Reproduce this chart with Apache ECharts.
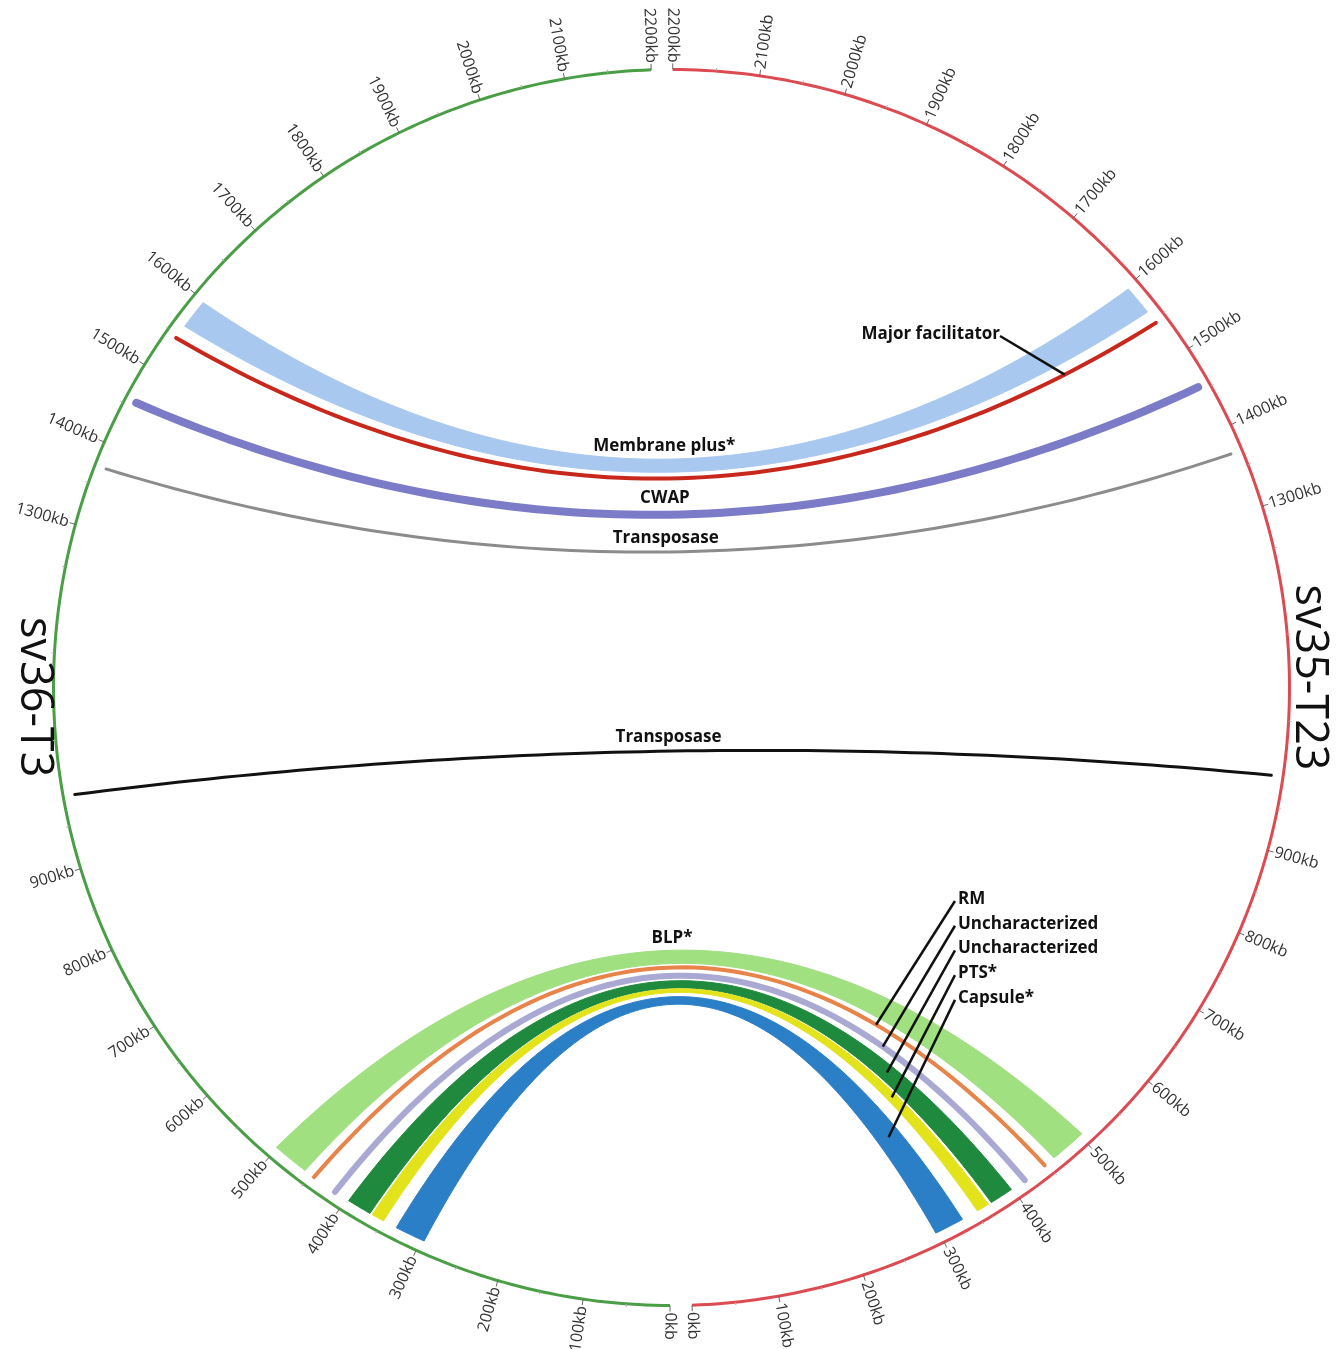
<!DOCTYPE html>
<html>
<head>
<meta charset="utf-8">
<script src="https://cdn.jsdelivr.net/npm/echarts@6/dist/echarts.min.js"></script>
<style>
html,body{margin:0;padding:0;background:#ffffff;}
#chart{width:1339px;height:1349px;}
</style>
</head>
<body>
<div id="chart"></div>
<script>
// ---------------- DATA ----------------
const chromNames = ['sv36-T3', 'sv35-T23'];          // left (green), right (red)
const chromLengthKb = [2200, 2200];

const tickKb = [0, 100, 200, 300, 400, 500, 600, 700, 800, 900,
                1300, 1400, 1500, 1600, 1700, 1800, 1900, 2000, 2100, 2200];
const tickLabels = ['0kb', '100kb', '200kb', '300kb', '400kb', '500kb', '600kb', '700kb', '800kb', '900kb',
                    '1300kb', '1400kb', '1500kb', '1600kb', '1700kb', '1800kb', '1900kb', '2000kb', '2100kb', '2200kb'];
const minorTickKb = [50, 150, 250, 350, 450, 550, 650, 750, 850, 950, 1050, 1150, 1250, 1350,
                     1450, 1550, 1650, 1750, 1850, 1950, 2050, 2150];

const linkNames = ['Membrane plus*', 'Major facilitator', 'CWAP', 'Transposase', 'Transposase',
                   'BLP*', 'RM', 'Uncharacterized', 'Uncharacterized', 'PTS*', 'Capsule*'];
const linkGreenStart = [1563, 1546, 1457, 1372, 985, 458, 445, 415, 367, 349, 296];
const linkGreenEnd   = [1598, 1546, 1457, 1372, 985, 501, 445, 415, 396, 364, 332];
const linkRedStart   = [1562, 1546, 1456, 1369, 986, 460, 446, 417, 370, 351, 296];
const linkRedEnd     = [1597, 1546, 1456, 1369, 986, 503, 446, 417, 398, 366, 331];

// ---------------- STYLE ----------------
const chromColors = ['#4a9e46', '#dc4a52'];
const linkColors = ['#a9c8ef', '#c8281c', '#7b7bc8', '#8c8c8c', '#111111',
                    '#a0e081', '#e8834a', '#a9a9d3', '#1f8a3d', '#e3e31c', '#2a7fc6'];
const linkLineWidths = [0, 4, 8, 3, 3, 0, 4, 6, 0, 0, 0];
const linkLabelMode = ['above', 'leaderLeft', 'above', 'above', 'above',
                       'above', 'leader', 'leader', 'leader', 'leader', 'leader'];

// ---------------- SCALE HELPERS ----------------
const CIRCLE_KB = 4450;        // kb spanned by the full circle
const RED_BASE_KB = 4424.7;    // red chromosome runs backwards from here
const LINK_R = 0.981;
const FONT = '"Open Sans", "Noto Sans", sans-serif';

function gpos(chrom, kb) { return chrom === 0 ? kb : RED_BASE_KB - kb; }

function center(api) { return api.coord([0, 0]); }
function radiusPx(api) {
  const c = center(api), p = api.coord([1, 0]);
  return Math.hypot(p[0] - c[0], p[1] - c[1]);
}
function arcPts(api, chrom, kb0, kb1, r, n) {
  const pts = [];
  for (let i = 0; i <= n; i++) {
    const kb = kb0 + (kb1 - kb0) * i / n;
    pts.push(api.coord([r, gpos(chrom, kb)]));
  }
  return pts;
}
// control point pulled from the centre toward the chord midpoint;
// short chords (close to centre) bend a bit less sharply
function ctrl(C, P0, P2) {
  const M = [(P0[0] + P2[0]) / 2, (P0[1] + P2[1]) / 2];
  const d = Math.max(Math.hypot(M[0] - C[0], M[1] - C[1]), 1);
  const f = 0.12 + 18 / d;
  return [C[0] + f * (M[0] - C[0]), C[1] + f * (M[1] - C[1])];
}
function quadAt(P0, Q, P2, t) {
  const a = (1 - t) * (1 - t), b = 2 * (1 - t) * t, c = t * t;
  return [a * P0[0] + b * Q[0] + c * P2[0], a * P0[1] + b * Q[1] + c * P2[1]];
}
function quadPts(C, P0, P2, n) {
  const Q = ctrl(C, P0, P2);
  const pts = [];
  for (let i = 0; i <= n; i++) pts.push(quadAt(P0, Q, P2, i / n));
  return pts;
}
function linkEnds(api, i) {
  const P = (chrom, kb) => api.coord([LINK_R, gpos(chrom, kb)]);
  return {
    gS: P(0, linkGreenStart[i]), gE: P(0, linkGreenEnd[i]),
    rS: P(1, linkRedStart[i]), rE: P(1, linkRedEnd[i]),
    gM: P(0, (linkGreenStart[i] + linkGreenEnd[i]) / 2),
    rM: P(1, (linkRedStart[i] + linkRedEnd[i]) / 2)
  };
}

// tick items
const tickItems = [];
for (let c = 0; c < 2; c++) {
  tickKb.forEach((kb, j) => tickItems.push({ chrom: c, kb: kb, label: tickLabels[j], major: true }));
  minorTickKb.forEach(kb => tickItems.push({ chrom: c, kb: kb, label: '', major: false }));
}

// ---------------- CHART ----------------
const chart = echarts.init(document.getElementById('chart'), null, { renderer: 'canvas' });

const option = {
  backgroundColor: '#ffffff',
  animation: false,
  polar: { center: [671.5, 687.5], radius: 618 },
  angleAxis: { type: 'value', min: 0, max: CIRCLE_KB, startAngle: 269.86, clockwise: true, show: false },
  radiusAxis: { type: 'value', min: 0, max: 1, show: false },
  series: [
    {
      type: 'custom', name: 'chromosomes', coordinateSystem: 'polar', silent: true,
      data: chromNames.map((n, i) => [1, gpos(i, chromLengthKb[i] / 2)]),
      renderItem: function (params, api) {
        const i = params.dataIndex;
        const pts = arcPts(api, i, 0, chromLengthKb[i], 1, 240);
        const np = api.coord([1.032, gpos(i, 1100)]);
        return {
          type: 'group',
          children: [
            { type: 'polyline', shape: { points: pts },
              style: { stroke: chromColors[i], lineWidth: 3, fill: null } },
            { type: 'text', x: np[0], y: np[1], rotation: -Math.PI / 2,
              style: { text: chromNames[i], font: '45px ' + FONT, fill: '#111',
                       align: 'center', verticalAlign: 'middle' } }
          ]
        };
      }
    },
    {
      type: 'custom', name: 'ticks', coordinateSystem: 'polar', silent: true,
      data: tickItems.map(t => [1, gpos(t.chrom, t.kb)]),
      renderItem: function (params, api) {
        const t = tickItems[params.dataIndex];
        const C = center(api);
        const p = api.coord([1, gpos(t.chrom, t.kb)]);
        const d = Math.hypot(p[0] - C[0], p[1] - C[1]);
        const ux = (p[0] - C[0]) / d, uy = (p[1] - C[1]) / d;
        const len = t.major ? 6 : 3;
        const children = [{
          type: 'line',
          shape: { x1: p[0], y1: p[1], x2: p[0] + ux * len, y2: p[1] + uy * len },
          style: { stroke: t.major ? '#666' : '#aaa', lineWidth: 1 }
        }];
        if (t.major) {
          const phi = Math.atan2(-uy, ux);
          const thetaCw = ((90 - phi * 180 / Math.PI) % 360 + 360) % 360;
          const flip = ((thetaCw - 1 + 360) % 360) > 180;
          const gap = 7;
          children.push({
            type: 'text', x: p[0] + ux * gap, y: p[1] + uy * gap,
            rotation: flip ? phi + Math.PI : phi,
            style: { text: t.label, font: '16px ' + FONT, fill: '#333',
                     align: flip ? 'right' : 'left', verticalAlign: 'middle' }
          });
        }
        return { type: 'group', children: children };
      }
    },
    {
      type: 'custom', name: 'links', coordinateSystem: 'polar', silent: true,
      data: linkNames.map((n, i) => [LINK_R, gpos(0, linkGreenStart[i])]),
      renderItem: function (params, api) {
        const i = params.dataIndex;
        const C = center(api);
        const e = linkEnds(api, i);
        if (linkLineWidths[i] > 0) {
          return {
            type: 'polyline', shape: { points: quadPts(C, e.gM, e.rM, 80) },
            style: { stroke: linkColors[i], lineWidth: linkLineWidths[i], fill: null, lineCap: 'round' }
          };
        }
        const e1 = quadPts(C, e.gS, e.rS, 100);
        const aR = arcPts(api, 1, linkRedStart[i], linkRedEnd[i], LINK_R, 12);
        const e2 = quadPts(C, e.rE, e.gE, 100);
        const aG = arcPts(api, 0, linkGreenEnd[i], linkGreenStart[i], LINK_R, 12);
        return {
          type: 'polygon', shape: { points: e1.concat(aR, e2, aG) },
          style: { fill: linkColors[i], stroke: linkColors[i], lineWidth: 1 }
        };
      }
    },
    {
      type: 'custom', name: 'labels', coordinateSystem: 'polar', silent: true,
      data: linkNames.map((n, i) => [LINK_R, gpos(1, linkRedStart[i])]),
      renderItem: function (params, api) {
        const i = params.dataIndex;
        const C = center(api), R = radiusPx(api);
        const e = linkEnds(api, i);
        const mode = linkLabelMode[i];
        const font = 'bold 17px ' + FONT;
        if (mode === 'above') {
          let top, xm;
          if (linkLineWidths[i] > 0) {
            const m = quadAt(e.gM, ctrl(C, e.gM, e.rM), e.rM, 0.5);
            top = m[1] - linkLineWidths[i] / 2; xm = m[0];
          } else {
            const m1 = quadAt(e.gS, ctrl(C, e.gS, e.rS), e.rS, 0.5);
            const m2 = quadAt(e.gE, ctrl(C, e.gE, e.rE), e.rE, 0.5);
            top = Math.min(m1[1], m2[1]); xm = (m1[0] + m2[0]) / 2;
          }
          return { type: 'text', x: xm - 4, y: top - 4,
                   style: { text: linkNames[i], font: font, fill: '#111', align: 'center', verticalAlign: 'bottom' } };
        }
        // leader labels
        let ax, ay, dir, align, tx;
        if (mode === 'leaderLeft') {
          ax = C[0] + 0.5316 * R; ay = C[1] - 0.5688 * R;
          dir = [70, 42]; align = 'right'; tx = ax;
        } else {
          const j = i - 6;
          ax = C[0] + 0.4587 * R; ay = C[1] + 0.3455 * R + j * 0.04 * R;
          dir = [-0.64 + 0.04 * j, 1]; align = 'left'; tx = ax + 3;
        }
        const dl = Math.hypot(dir[0], dir[1]);
        const dx = dir[0] / dl, dy = dir[1] / dl;
        const Q = ctrl(C, e.gM, e.rM);
        let best = null, bestD = Infinity;
        for (let k = 0; k <= 400; k++) {
          const t = 0.5 + 0.5 * k / 400;
          const p = quadAt(e.gM, Q, e.rM, t);
          const vx = p[0] - ax, vy = p[1] - ay;
          if (vx * dx + vy * dy <= 0) continue;
          const cross = Math.abs(vx * dy - vy * dx);
          if (cross < bestD) { bestD = cross; best = p; }
        }
        return {
          type: 'group',
          children: [
            { type: 'line', shape: { x1: ax, y1: ay, x2: best[0], y2: best[1] },
              style: { stroke: '#111', lineWidth: 2.5 } },
            { type: 'text', x: tx, y: ay - 2,
              style: { text: linkNames[i], font: font, fill: '#111', align: align, verticalAlign: 'middle' } }
          ]
        };
      }
    }
  ]
};
chart.setOption(option);
</script>
</body>
</html>
